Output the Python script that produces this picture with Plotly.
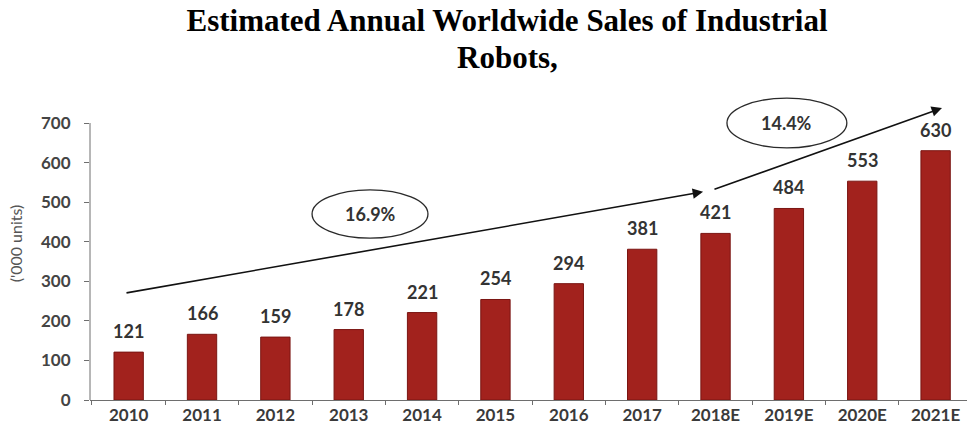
import plotly.graph_objects as go

# Annual sales of industrial robots, thousands of units (E = estimate)
years = ["2010", "2011", "2012", "2013", "2014", "2015", "2016", "2017",
         "2018E", "2019E", "2020E", "2021E"]
units = [121, 166, 159, 178, 221, 254, 294, 381, 421, 484, 553, 630]

# Compound growth rates shown on the trend arrows
cagr_labels = ["16.9%", "14.4%"]

y_ticks = [0, 100, 200, 300, 400, 500, 600, 700]

BAR = "#a2221d"
INK = "#111111"
LABEL_FONT = dict(family="Lato", size=18, color="#333333", weight="bold")
TITLE_FONT = dict(family="Liberation Serif", size=31, color="#000000", weight="bold")

fig = go.Figure()

fig.add_trace(go.Bar(
    x=years,
    y=units,
    marker=dict(color=BAR, line=dict(color="#7a1512", width=1)),
    width=0.4,
    hoverinfo="x+y",
))

annotations = []

# value labels above each bar (positioned by category index)
for i, v in enumerate(units):
    annotations.append(dict(
        x=i, y=v, xref="x", yref="y", text=str(v), showarrow=False,
        yanchor="bottom", yshift=8, font=LABEL_FONT,
    ))

# trend arrows (tail -> head, in category index / value space)
arrows = [
    ((-0.05, 270), (7.83, 526)),
    ((7.965, 531), (11.087, 738)),
]
for (x0, y0), (x1, y1) in arrows:
    annotations.append(dict(
        x=x1, y=y1, ax=x0, ay=y0, xref="x", yref="y", axref="x", ayref="y",
        text="", showarrow=True, arrowhead=2, arrowsize=1.3, arrowwidth=1.6,
        arrowcolor=INK,
    ))

# growth-rate ellipses with their labels
ellipses = [(2.50, 409, 4.08, 531), (8.156, 637, 9.79, 763)]
shapes = []
for (x0, y0, x1, y1), txt in zip(ellipses, cagr_labels):
    shapes.append(dict(
        type="circle", xref="x", yref="y", x0=x0, y0=y0, x1=x1, y1=y1,
        line=dict(color="#2a2a2a", width=1.3),
    ))
    annotations.append(dict(
        x=(x0 + x1) / 2, y=(y0 + y1) / 2, xref="x", yref="y", text=txt,
        showarrow=False, font=LABEL_FONT,
    ))

# vertical axis line, stopping at the top tick
shapes.append(dict(
    type="line", xref="paper", yref="y", x0=0, x1=0, y0=0, y1=700,
    line=dict(color="#6e6e6e", width=1),
))

# second title line
annotations.append(dict(
    text="Robots,", xref="paper", yref="paper", x=(507 - 90) / 877,
    y=(400 - 57) / 313, showarrow=False, yanchor="middle",
    font=TITLE_FONT,
))

fig.update_layout(
    width=967,
    height=436,
    margin=dict(l=90, r=0, t=87, b=36),
    plot_bgcolor="white",
    paper_bgcolor="white",
    showlegend=False,
    title=dict(
        text="Estimated Annual Worldwide Sales of Industrial",
        x=507 / 967, xanchor="center", xref="container",
        y=1 - 20 / 436, yanchor="middle", yref="container",
        font=TITLE_FONT,
    ),
    xaxis=dict(
        type="category",
        range=[-0.527, 11.428],
        showline=True, linecolor="#6e6e6e", linewidth=1,
        ticks="outside", tickson="boundaries", ticklen=4, tickcolor="#6e6e6e",
        showgrid=False, zeroline=False,
        tickfont=dict(family="Lato", size=17, color="#3a3a3a", weight="bold"),
    ),
    yaxis=dict(
        range=[0, 791],
        tickvals=y_ticks,
        showline=False,
        ticks="outside", ticklen=5, tickcolor="#6e6e6e",
        ticklabelstandoff=10,
        showgrid=False, zeroline=False,
        tickfont=dict(family="Lato", size=17, color="#444444", weight="bold"),
        title=dict(text="('000 units)", standoff=14,
                   font=dict(family="Lato", size=16, color="#555555")),
    ),
    annotations=annotations,
    shapes=shapes,
)

fig.write_html("out.html")
